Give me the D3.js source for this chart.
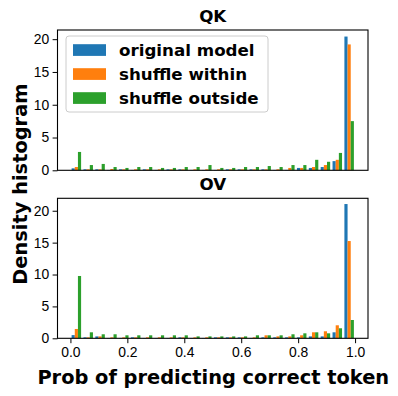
<!DOCTYPE html>
<html>
<head>
<meta charset="utf-8">
<script src="https://cdn.jsdelivr.net/npm/d3@7"></script>
<style>
  body { margin: 0; background: #fff; }
  svg { font-family: "DejaVu Sans", sans-serif; }
</style>
</head>
<body>
<div id="chart"></div>
<script>
// bins: 24 equal bins over [0, 1]
const nBins = 24;
const seriesNames = ["original model", "shuffle within", "shuffle outside"];
const colors = ["#1f77b4", "#ff7f0e", "#2ca02c"];
const xTicks = [0, 0.2, 0.4, 0.6, 0.8, 1.0];
const yTicks = [0, 5, 10, 15, 20];

// QK density per bin
const qkOriginal = [0.3, 0.15, 0.15, 0.05, 0.15, 0.05, 0.15, 0.05, 0.15, 0.15, 0.05, 0.05, 0.05, 0.15, 0.15, 0.15, 0.15, 0.05, 0.05, 0.36, 0.36, 0.5, 1.4, 20.4];
const qkWithin   = [0.5, 0.15, 0.15, 0.2, 0.15, 0.15, 0.15, 0.15, 0.15, 0.15, 0.15, 0.15, 0.15, 0.15, 0.15, 0.15, 0.15, 0.15, 0.36, 0.36, 0.5, 0.8, 1.6, 19.2];
const qkOutside  = [2.8, 0.8, 0.97, 0.5, 0.36, 0.5, 0.5, 0.36, 0.36, 0.5, 0.5, 0.8, 0.36, 0.36, 0.5, 0.5, 0.65, 0.5, 0.8, 0.8, 1.6, 1.3, 2.65, 7.5];

// OV density per bin
const ovOriginal = [0.5, 0.15, 0.3, 0.05, 0.05, 0.15, 0.05, 0.05, 0.05, 0.15, 0.05, 0.05, 0.15, 0.15, 0.15, 0.05, 0.15, 0.15, 0.15, 0.15, 0.3, 0.3, 0.94, 21.05];
const ovWithin   = [1.46, 0.15, 0.3, 0.15, 0.15, 0.15, 0.15, 0.15, 0.15, 0.15, 0.15, 0.15, 0.15, 0.15, 0.15, 0.15, 0.47, 0.3, 0.3, 0.47, 0.94, 1.1, 2.04, 15.25];
const ovOutside  = [9.77, 0.94, 0.63, 0.63, 0.47, 0.47, 0.47, 0.47, 0.47, 0.47, 0.3, 0.3, 0.3, 0.3, 0.3, 0.47, 0.47, 0.47, 0.63, 0.78, 0.94, 0.78, 1.57, 2.87];

const width = 398, height = 396;
const left = 57.5, right = 368;

const svg = d3.select("#chart").append("svg")
  .attr("width", width).attr("height", height);

svg.append("rect").attr("width", width).attr("height", height).attr("fill", "#fff");

const x = d3.scaleLinear().domain([-0.0454, 1.0454]).range([left, right]);

const binW = 1 / nBins;
const barW = 0.8 * binW / 3;

function panel(title, series, top, bottom, yMax, showX) {
  const y = d3.scaleLinear().domain([0, yMax]).range([bottom, top]);
  const g = svg.append("g");

  series.forEach((vals, s) => {
    g.append("g").selectAll("rect")
      .data(vals)
      .join("rect")
      .attr("x", (d, i) => x(i * binW + 0.1 * binW + s * barW))
      .attr("width", x(barW) - x(0))
      .attr("y", d => y(d))
      .attr("height", d => y(0) - y(d))
      .attr("fill", colors[s]);
  });

  g.append("g")
    .attr("transform", `translate(${left},0)`)
    .call(d3.axisLeft(y).tickValues(yTicks).tickSize(4.9).tickPadding(3.5))
    .call(a => a.select(".domain").remove())
    .selectAll("text").attr("font-size", "13.9px").attr("fill", "#000");

  // only the lower panel shows x ticks
  if (showX) {
    g.append("g")
      .attr("transform", `translate(0,${bottom})`)
      .call(d3.axisBottom(x).tickValues(xTicks).tickSize(4.9).tickPadding(3.5)
        .tickFormat(d3.format(".1f")))
      .call(a => a.select(".domain").remove())
      .selectAll("text").attr("font-size", "13.9px").attr("fill", "#000");
  }

  g.append("rect")
    .attr("x", left).attr("y", top)
    .attr("width", right - left).attr("height", bottom - top)
    .attr("fill", "none").attr("stroke", "#000").attr("stroke-width", 1.1);

  g.append("text")
    .attr("x", (left + right) / 2).attr("y", top - 8)
    .attr("text-anchor", "middle")
    .attr("font-size", "16.7px").attr("font-weight", "bold")
    .text(title);
}

panel("QK", [qkOriginal, qkWithin, qkOutside], 30, 170.3, 21.4, false);
panel("OV", [ovOriginal, ovWithin, ovOutside], 198.3, 338.3, 21.95, true);

// legend
const lg = svg.append("g").attr("transform", "translate(66,36)");
lg.append("rect")
  .attr("width", 202).attr("height", 76).attr("rx", 3)
  .attr("fill", "#fff").attr("fill-opacity", 0.8)
  .attr("stroke", "#ccc");
seriesNames.forEach((name, i) => {
  const cy = 14 + i * 24;
  lg.append("rect").attr("x", 7).attr("y", cy - 5.8)
    .attr("width", 33).attr("height", 11.7).attr("fill", colors[i]);
  lg.append("text").attr("x", 53).attr("y", cy + 6)
    .attr("font-size", "16.7px").attr("font-weight", "bold")
    .text(name);
});

// axis labels
svg.append("text")
  .attr("transform", `translate(26.5,${(30 + 338.3) / 2}) rotate(-90)`)
  .attr("text-anchor", "middle")
  .attr("font-size", "19.4px").attr("font-weight", "bold")
  .text("Density histogram");

svg.append("text")
  .attr("x", (left + right) / 2 + 0.5).attr("y", 384)
  .attr("text-anchor", "middle")
  .attr("font-size", "19.4px").attr("font-weight", "bold")
  .text("Prob of predicting correct token");
</script>
</body>
</html>
